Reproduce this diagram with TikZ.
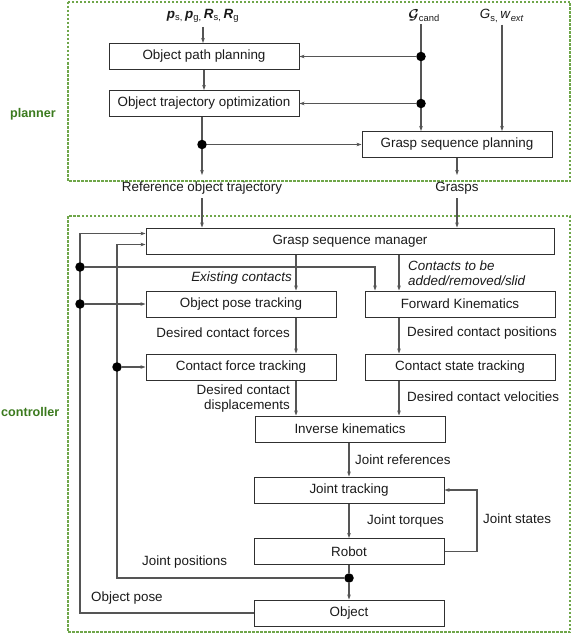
\documentclass[tikz,border=0pt]{standalone}
\usepackage{fontspec}
\setmainfont{Liberation Sans}
\usepackage{amsmath}
\usetikzlibrary{arrows.meta}
\newcommand{\figfont}{\fontsize{13.4}{15}\selectfont}
\newcommand{\sidefont}{\fontsize{12.6}{15}\selectfont}
\definecolor{boxc}{HTML}{303030}
\definecolor{linec}{HTML}{555555}
\definecolor{txt}{HTML}{1A1A1A}
\definecolor{dashc}{HTML}{6FA64A}
\definecolor{sidec}{HTML}{3B7A1E}
\begin{document}
\begin{tikzpicture}[x=1pt,y=-1pt,
  box/.style={draw=boxc, line width=1pt, minimum width=190pt, minimum height=26pt, inner sep=0pt, font=\figfont, text=txt},
  conn/.style={draw=linec, line width=1.1pt},
  arr/.style={conn, -{Stealth[length=5pt,width=3.6pt]}},
  lbl/.style={font=\figfont, text=txt, inner sep=0pt},
  ilbl/.style={font=\figfont\itshape, text=txt, inner sep=0pt},
  dot/.style={circle, fill=black, inner sep=0pt, minimum size=9.5pt},
  region/.style={draw=dashc, line width=1.2pt, dash pattern=on 2.5pt off 1.5pt},
  side/.style={font=\sidefont\bfseries, text=sidec, inner sep=0pt}]
\useasboundingbox (0,0) rectangle (572,634);
% regions
\draw[region] (68,2) rectangle (570,181);
\draw[region] (68,216) rectangle (570,632);
\node[side] (planner) at (33,114) {planner};
\node[side, anchor=west] (controller) at (1,412) {controller};

% planner boxes
\node[box] (opp) at (204,56.5) {Object path planning};
\node[box] (oto) at (204,103.5) {Object trajectory optimization};
\node[box] (gsp) at (457,144.5) {Grasp sequence planning};

% inputs
\node[lbl] (pin) at (203,16) {\textbf{\textit{p}}\textsubscript{s,}\,\textbf{\textit{p}}\textsubscript{g,}\,\textbf{\textit{R}}\textsubscript{s,}\,\textbf{\textit{R}}\textsubscript{g}};
\node[lbl, inner ysep=2pt] (gin) at (421,16) {\hspace*{6pt}$\boldsymbol{\mathcal{G}}$\textsubscript{cand}};
\node[lbl, inner ysep=2pt] (gsw) at (502,16) {\textit{G}\textsubscript{s,}\,\textit{w}\textsubscript{\textit{ext}}};

\draw[arr] (pin.south) ++(0,4) -- (pin.south |- opp.north);
\draw[arr] (gin.south) -- (gin.south |- gsp.north);
\draw[arr] (gsw.south) -- (gsw.south |- gsp.north);
\node[dot] (d1) at (gin.south |- opp.east) {};
\node[dot] (d2) at (gin.south |- oto.east) {};
\draw[arr] (d1) -- (opp.east);
\draw[arr] (d2) -- (oto.east);
\draw[arr] (opp.south) -- (oto.north);

\coordinate (ref1) at (202,175);
\coordinate (gr1) at (457,175);
\draw[arr] (oto.south -| ref1) -- (ref1);
\node[dot] (d3) at (ref1 |- gsp.west) {};
\draw[arr] (d3) -- (gsp.west);
\draw[arr] (gsp.south) -- (gr1);

\node[lbl] (reflbl) at (202,188) {Reference object trajectory};
\node[lbl] (grlbl) at (457,188) {Grasps};

% controller boxes
\node[box, minimum width=408pt] (gsm) at (350,241) {Grasp sequence manager};
\node[box] (opt) at (241,304) {Object pose tracking};
\node[box] (fk) at (460,304) {Forward Kinematics};
\node[box] (cft) at (241,367) {Contact force tracking};
\node[box] (cst) at (460,367) {Contact state tracking};
\node[box] (ik) at (350,429) {Inverse kinematics};
\node[box] (jt) at (349,490) {Joint tracking};
\node[box] (rob) at (349,551.5) {Robot};
\node[box] (obj) at (349,613) {Object};

\draw[arr] (reflbl.south) ++(0,4) -- (reflbl.south |- gsm.north);
\draw[arr] (grlbl.south) ++(0,4) -- (grlbl.south |- gsm.north);

\coordinate (xa) at (296,0);
\coordinate (xb) at (399,0);
\coordinate (xc) at (375,0);
\coordinate (xm) at (349,0);
\draw[arr] (gsm.south -| xa) -- (opt.north -| xa);
\draw[arr] (gsm.south -| xb) -- (fk.north -| xb);
\draw[arr] (opt.south -| xa) -- (cft.north -| xa);
\draw[arr] (fk.south -| xb) -- (cst.north -| xb);
\draw[arr] (cft.south -| xa) -- (ik.north -| xa);
\draw[arr] (cst.south -| xb) -- (ik.north -| xb);
\draw[arr] (ik.south -| xm) -- (jt.north);
\draw[arr] (jt.south) -- (rob.north);

% joint positions
\node[dot] (d6) at (349,578) {};
\draw[conn] (rob.south) -- (d6);
\draw[arr] (d6) -- (obj.north);
\coordinate (jp1) at (117,578);
\coordinate (jp2) at (117,244.5);
\draw[arr] (d6) -- (jp1) -- (jp2) -- (jp2 -| gsm.west);
\node[dot] (d5) at (jp1 |- cft.west) {};
\draw[arr] (d5) -- (cft.west);

% object pose
\coordinate (op1) at (80,613);
\coordinate (op2) at (80,233.5);
\draw[arr] (obj.west) -- (op1) -- (op2) -- (op2 -| gsm.west);
\node[dot] (d7) at (80,267) {};
\node[dot] (d8) at (op1 |- opt.west) {};
\draw[arr] (d8) -- (opt.west);
\draw[arr] (d7) -- (d7 -| xc) -- (fk.north -| xc);

% joint states
\coordinate (js1) at (477,551.5);
\draw[arr] (rob.east) -- (js1) -- (js1 |- jt.east) -- (jt.east);

% labels
\node[ilbl, anchor=east] (l1) at (292,278) {Existing contacts};
\node[ilbl, anchor=west, align=left] (l2) at (408,273) {Contacts to be\\added/removed/slid};
\node[lbl, anchor=east] (l3) at (290,333) {Desired contact forces};
\node[lbl, anchor=west] (l4) at (407,333) {Desired contact positions};
\node[lbl, anchor=east, align=right] (l5) at (290,398.5) {Desired contact\\displacements};
\node[lbl, anchor=west] (l6) at (407,397) {Desired contact velocities};
\node[lbl, anchor=west] (l7) at (355,460) {Joint references};
\node[lbl, anchor=west] (l8) at (367,521) {Joint torques};
\node[lbl, anchor=west] (l9) at (483,519) {Joint states};
\node[lbl, anchor=west] (l10) at (142,562) {Joint positions};
\node[lbl, anchor=west] (l11) at (91,598) {Object pose};
\end{tikzpicture}
\end{document}
